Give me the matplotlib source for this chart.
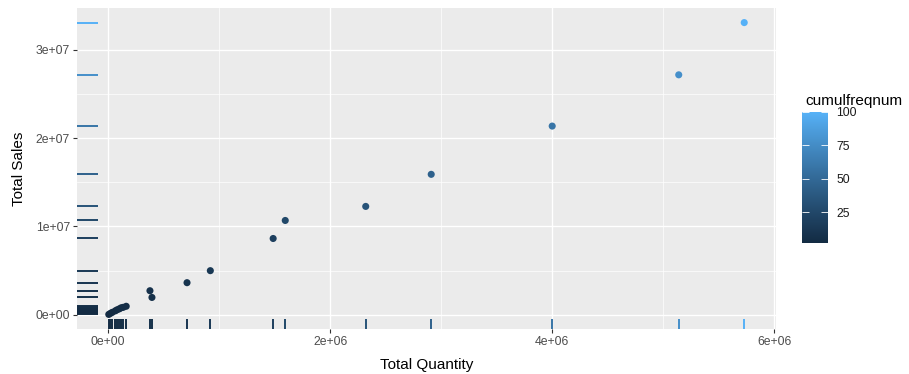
import numpy as np
import matplotlib
matplotlib.use("Agg")
import matplotlib.pyplot as plt
from matplotlib.colors import ListedColormap, Normalize
from matplotlib.ticker import FuncFormatter, MultipleLocator
from matplotlib.transforms import blended_transform_factory

plt.rcParams['font.family'] = ['Liberation Sans', 'DejaVu Sans']

# Per-product totals and cumulative frequency
total_quantity = [5000, 20000, 36000, 63000, 80000, 100000, 117000, 135000, 162000,
                  394000, 376000, 710000, 920000, 1486000, 1595000, 2320000,
                  2910000, 4000000, 5140000, 5730000]
total_sales = [0.05e6, 0.17e6, 0.28e6, 0.45e6, 0.57e6, 0.68e6, 0.80e6, 0.85e6, 0.97e6,
               1.97e6, 2.73e6, 3.64e6, 5.0e6, 8.64e6, 10.68e6, 12.27e6,
               15.9e6, 21.36e6, 27.16e6, 33.07e6]
cumulfreqnum = [2.0, 2.1, 2.3, 2.6, 2.9, 3.3, 3.8, 4.4, 5.0,
                5.9, 7.2, 9.6, 12.6, 18.5, 25.3, 33.6,
                44.4, 58.9, 77.3, 100.0]
legend_breaks = [25, 50, 75, 100]

x = np.array(total_quantity, dtype=float)
y = np.array(total_sales, dtype=float)
c = np.array(cumulfreqnum, dtype=float)


# Sequential blue gradient interpolated in CIE Lab space
def _hex_to_rgb(h):
    h = h.lstrip('#')
    return np.array([int(h[i:i + 2], 16) / 255 for i in (0, 2, 4)])

_M = np.array([[0.4124564, 0.3575761, 0.1804375],
               [0.2126729, 0.7151522, 0.0721750],
               [0.0193339, 0.1191920, 0.9503041]])
_WHITE = np.array([0.95047, 1.0, 1.08883])


def _rgb_to_lab(rgb):
    lin = np.where(rgb <= 0.04045, rgb / 12.92, ((rgb + 0.055) / 1.055) ** 2.4)
    xyz = _M @ lin / _WHITE
    f = np.where(xyz > 216 / 24389, np.cbrt(xyz), (24389 / 27 * xyz + 16) / 116)
    return np.array([116 * f[1] - 16, 500 * (f[0] - f[1]), 200 * (f[1] - f[2])])


def _lab_to_rgb(lab):
    fy = (lab[0] + 16) / 116
    fx = fy + lab[1] / 500
    fz = fy - lab[2] / 200
    f = np.array([fx, fy, fz])
    xyz = np.where(f ** 3 > 216 / 24389, f ** 3, (116 * f - 16) / (24389 / 27)) * _WHITE
    lin = np.linalg.solve(_M, xyz)
    lin = np.clip(lin, 0, 1)
    rgb = np.where(lin <= 0.0031308, 12.92 * lin, 1.055 * lin ** (1 / 2.4) - 0.055)
    return np.clip(rgb, 0, 1)


lo = _rgb_to_lab(_hex_to_rgb('#132B43'))
hi = _rgb_to_lab(_hex_to_rgb('#56B1F7'))
cmap = ListedColormap([_lab_to_rgb(lo + t * (hi - lo)) for t in np.linspace(0, 1, 256)])
norm = Normalize(vmin=c.min(), vmax=c.max())

fig = plt.figure(figsize=(9.09, 3.74), dpi=100)
fig.patch.set_facecolor('white')
ax = fig.add_axes([77 / 909, 45 / 374, 699 / 909, 321 / 374])
ax.set_facecolor('#EBEBEB')

# Axis limits with 5% expansion around the data range
xr = x.max() - x.min()
yr = y.max() - y.min()
ax.set_xlim(x.min() - 0.05 * xr, x.max() + 0.05 * xr)
ax.set_ylim(y.min() - 0.05 * yr, y.max() + 0.05 * yr)

ax.xaxis.set_major_locator(MultipleLocator(2e6))
ax.xaxis.set_minor_locator(MultipleLocator(1e6))
ax.yaxis.set_major_locator(MultipleLocator(1e7))
ax.yaxis.set_minor_locator(MultipleLocator(5e6))
fmt = FuncFormatter(lambda v, p: f"{v:.0e}")
ax.xaxis.set_major_formatter(fmt)
ax.yaxis.set_major_formatter(fmt)

ax.grid(which='major', color='white', linewidth=1.0)
ax.grid(which='minor', color='white', linewidth=0.5)
ax.set_axisbelow(True)
for s in ax.spines.values():
    s.set_visible(False)
ax.tick_params(which='major', length=3, width=0.8, color='#333333',
               labelsize=8.8, labelcolor='#4D4D4D', pad=2)
ax.tick_params(which='minor', length=0)

# Rug marks along both axes
trans_x = blended_transform_factory(ax.transData, ax.transAxes)
trans_y = blended_transform_factory(ax.transAxes, ax.transData)
colors = cmap(norm(c))
ax.vlines(x, 0, 0.03, colors=colors, linewidth=1.4, transform=trans_x, zorder=2)
ax.hlines(y, 0, 0.03, colors=colors, linewidth=1.4, transform=trans_y, zorder=2)

sc = ax.scatter(x, y, c=c, cmap=cmap, norm=norm, s=26, linewidths=0, zorder=3)

ax.set_xlabel('Total Quantity', fontsize=11, labelpad=7)
ax.set_ylabel('Total Sales', fontsize=11, labelpad=7)

# Colour bar legend
cax = fig.add_axes([802 / 909, 131 / 374, 26 / 909, 131 / 374])
cb = fig.colorbar(sc, cax=cax, ticks=legend_breaks)
cb.outline.set_visible(False)
cax.tick_params(direction='in', length=5, width=0.6, color='white',
                left=True, right=True, labelsize=8.8, labelcolor='#1A1A1A', pad=6)
fig.text(805 / 909, 1 - 101 / 374, 'cumulfreqnum', fontsize=11, ha='left', va='center')

fig.savefig('out.png', dpi=100)
